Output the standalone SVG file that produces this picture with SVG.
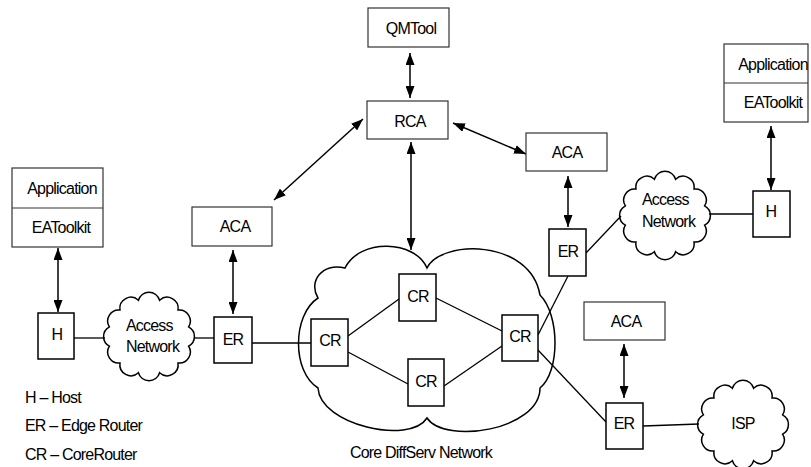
<svg xmlns="http://www.w3.org/2000/svg" width="811" height="467" viewBox="0 0 811 467">
<style>
text{font-family:"Liberation Sans",Arial,sans-serif;font-size:16px;letter-spacing:-0.8px;fill:#000}
.c{text-anchor:middle}
.box{fill:#fff;stroke:#333;stroke-width:1.2}
.nb{fill:#fff;stroke:#000;stroke-width:1.5}
.cloud{fill:#fff;stroke:#000;stroke-width:1.5}
.ln{stroke:#000;stroke-width:1.3;fill:none}
.ar{stroke:#000;stroke-width:1.5;fill:none;marker-start:url(#ah);marker-end:url(#ah)}
</style>
<defs>
<marker id="ah" viewBox="0 0 12 9" refX="12" refY="4.5" markerWidth="12" markerHeight="9" markerUnits="userSpaceOnUse" orient="auto-start-reverse">
<path d="M0,0 L12,4.5 L0,9 Z" fill="#000"/>
</marker>
<path id="cl" d="M36.4 8.3 A11 11 0 0 1 57.6 8.3 A11 11 0 0 1 76 18 A11 11 0 0 1 86.6 34.8 A11 11 0 0 1 86.6 54.2 A11 11 0 0 1 76 71 A11 11 0 0 1 57.6 80.7 A11 11 0 0 1 36.4 80.7 A11 11 0 0 1 18 71 A11 11 0 0 1 7.4 54.2 A11 11 0 0 1 7.4 34.8 A11 11 0 0 1 18 18 A11 11 0 0 1 36.4 8.3 Z"/>
</defs>
<rect width="811" height="467" fill="#fff"/>

<g id="core-cloud">
<path class="cloud" d="M427 268 C440 240 530 238 540 295 C560 315 560 372 540 388 C540 430 445 445 427 418 C410 445 320 425 318 388 C292 372 292 315 318 298 C308 282 322 262 345 268 C360 238 415 240 427 268 Z"/>
<text class="c" x="421" y="458">Core DiffServ Network</text>
</g>
<g id="access-left">
<use href="#cl" class="cloud" transform="translate(102,292)"/>
<text x="126" y="331">Access</text>
<text x="126" y="352">Network</text>
</g>
<g id="access-right">
<use href="#cl" class="cloud" transform="translate(618,171)"/>
<text x="642" y="205">Access</text>
<text x="642" y="227">Network</text>
</g>
<g id="isp">
<use href="#cl" class="cloud" transform="translate(696,380)"/>
<text class="c" x="743" y="429">ISP</text>
</g>

<g id="connectors">
<line class="ar" x1="410" y1="53" x2="410" y2="98"/>
<line class="ar" x1="363" y1="119" x2="274" y2="200"/>
<line class="ar" x1="453" y1="123" x2="526" y2="154"/>
<line class="ar" x1="411" y1="142" x2="411" y2="250"/>
<line class="ar" x1="233" y1="250" x2="233" y2="314"/>
<line class="ar" x1="568" y1="176" x2="568" y2="227"/>
<line class="ar" x1="624" y1="344" x2="624" y2="398"/>
<line class="ar" x1="58" y1="248" x2="58" y2="312"/>
<line class="ar" x1="771" y1="126" x2="771" y2="190"/>
<line class="ln" x1="74" y1="338" x2="105" y2="338"/>
<line class="ln" x1="194" y1="338" x2="214" y2="338"/>
<line class="ln" x1="252" y1="343" x2="311" y2="343"/>
<line class="ln" x1="348" y1="336" x2="399" y2="299"/>
<line class="ln" x1="348" y1="352" x2="408" y2="384"/>
<line class="ln" x1="436" y1="298" x2="502" y2="331"/>
<line class="ln" x1="444" y1="386" x2="502" y2="346"/>
<line class="ln" x1="538" y1="335" x2="568" y2="276"/>
<line class="ln" x1="586" y1="253" x2="621" y2="216"/>
<line class="ln" x1="709" y1="214" x2="753" y2="214"/>
<line class="ln" x1="538" y1="350" x2="606" y2="422"/>
<line class="ln" x1="643" y1="426" x2="699" y2="424"/>
</g>

<g id="qmtool"><rect class="box" x="368" y="8" width="81" height="39"/><text class="c" x="411" y="34">QMTool</text></g>
<g id="rca"><rect class="box" x="367" y="101" width="81" height="38"/><text class="c" x="410" y="127">RCA</text></g>
<g id="aca-left"><rect class="box" x="192" y="207" width="80" height="39"/><text class="c" x="235" y="232">ACA</text></g>
<g id="aca-right"><rect class="box" x="526" y="133" width="81" height="38"/><text class="c" x="567" y="158">ACA</text></g>
<g id="aca-bottom"><rect class="box" x="584" y="302" width="81" height="38"/><text class="c" x="626" y="327">ACA</text></g>

<g id="app-left"><rect class="box" x="12" y="168" width="91" height="79"/><line class="box" x1="12" y1="208" x2="103" y2="208"/><text class="c" x="62" y="194">Application</text><text class="c" x="61" y="233">EAToolkit</text></g>
<g id="app-right"><rect class="box" x="724" y="44" width="84" height="78"/><line class="box" x1="724" y1="83" x2="808" y2="83"/><text class="c" x="773" y="70">Application</text><text class="c" x="773" y="108">EAToolkit</text></g>

<g id="h-left"><rect class="nb" x="38" y="313" width="36" height="46"/><text class="c" x="57" y="340">H</text></g>
<g id="h-right"><rect class="nb" x="753" y="191" width="37" height="46"/><text class="c" x="771" y="217">H</text></g>
<g id="er-left"><rect class="nb" x="214" y="317" width="38" height="46"/><text class="c" x="233" y="345">ER</text></g>
<g id="er-top"><rect class="nb" x="549" y="229" width="37" height="47"/><text class="c" x="568" y="257">ER</text></g>
<g id="er-bottom"><rect class="nb" x="606" y="403" width="37" height="46"/><text class="c" x="624" y="429">ER</text></g>
<g id="cr-left"><rect class="nb" x="311" y="319" width="37" height="47"/><text class="c" x="330" y="346">CR</text></g>
<g id="cr-top"><rect class="nb" x="399" y="274" width="37" height="47"/><text class="c" x="418" y="302">CR</text></g>
<g id="cr-bottom"><rect class="nb" x="408" y="359" width="36" height="47"/><text class="c" x="426" y="387">CR</text></g>
<g id="cr-right"><rect class="nb" x="502" y="315" width="36" height="46"/><text class="c" x="520" y="342">CR</text></g>

<g id="legend">
<text x="25" y="403">H – Host</text>
<text x="25" y="431">ER – Edge Router</text>
<text x="25" y="460">CR – CoreRouter</text>
</g>
</svg>
